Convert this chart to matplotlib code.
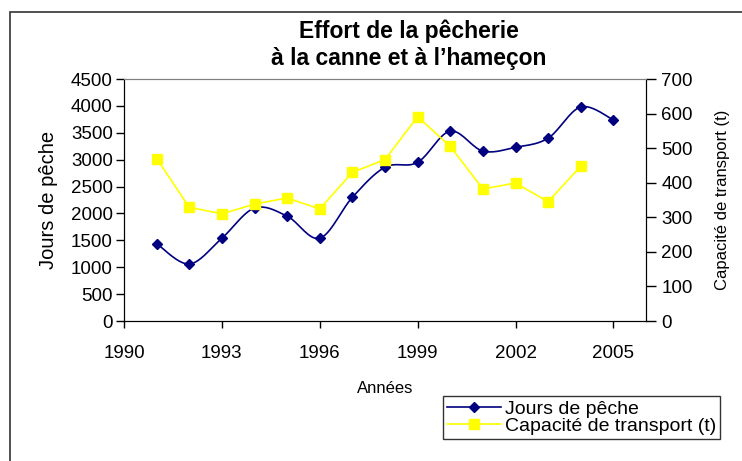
import numpy as np
import matplotlib.pyplot as plt
from matplotlib.patches import Rectangle

plt.rcParams['font.family'] = ['Liberation Sans', 'DejaVu Sans']

annees = [1991, 1992, 1993, 1994, 1995, 1996, 1997, 1998, 1999, 2000, 2001, 2002, 2003, 2004, 2005]
jours = [1440, 1060, 1540, 2100, 1950, 1540, 2300, 2860, 2950, 3530, 3160, 3230, 3400, 3980, 3740]
annees_cap = annees[:-1]
capacite = [470, 329, 310, 338, 356, 324, 430, 467, 591, 505, 382, 399, 345, 448]


def smooth(x, y, n=20):
    # catmull-rom curve through the points, like Excel's smoothed line
    x = np.asarray(x, float)
    y = np.asarray(y, float)
    px = np.concatenate([[x[0]], x, [x[-1]]])
    py = np.concatenate([[y[0]], y, [y[-1]]])
    xs, ys = [], []
    t = np.linspace(0, 1, n)
    for i in range(1, len(px) - 2):
        for p, out in ((px, xs), (py, ys)):
            p0, p1, p2, p3 = p[i - 1], p[i], p[i + 1], p[i + 2]
            out.extend(0.5 * (2 * p1 + (-p0 + p2) * t + (2 * p0 - 5 * p1 + 4 * p2 - p3) * t ** 2
                              + (-p0 + 3 * p1 - 3 * p2 + p3) * t ** 3))
    return xs, ys


W, H = 742, 461
fig = plt.figure(figsize=(7.42, 4.61), dpi=100)
fig.patches.append(Rectangle((10 / W, -0.05), 1.1, 1.05 - 12 / H, transform=fig.transFigure,
                             fill=False, edgecolor='#333333', linewidth=1.2))
ax = fig.add_axes([124 / W, 1 - 321 / H, 522 / W, 242 / H])
ax2 = ax.twinx()

navy = '#000080'
yellow = '#ffff00'

sx, sy = smooth(annees, jours)
ax.plot(sx, sy, color=navy, linewidth=1.2)
ax.plot(annees, jours, linestyle='none', marker='D', markersize=5.5, color=navy)
ax2.plot(annees_cap, capacite, color=yellow, linewidth=1.2, marker='s', markersize=6.5)

ax.set_xlim(1990, 2006)
ax.set_ylim(0, 4500)
ax2.set_ylim(0, 700)
ax.set_xticks([1990, 1993, 1996, 1999, 2002, 2005])
ax.set_yticks(np.arange(0, 4501, 500))
ax2.set_yticks(np.arange(0, 701, 100))
ax.tick_params(axis='y', labelsize=13.5, direction='out', length=6, width=1, pad=2)
ax.tick_params(axis='x', labelsize=13.5, direction='out', length=5, width=1, pad=12)
ax2.tick_params(labelsize=13.5, direction='out', length=7, width=1, pad=4)

for a in (ax, ax2):
    a.spines['top'].set_color('#808080')
    for s in ('left', 'right', 'bottom'):
        a.spines[s].set_color('black')

ax.set_ylabel('Jours de pêche', fontsize=14.5, labelpad=9)
ax2.set_ylabel('Capacité de transport (t)', fontsize=12, labelpad=16)
ax.set_xlabel('Années', fontsize=12, labelpad=14)

fig.text(409 / W, 1 - 38 / H, 'Effort de la pêcherie', ha='center', va='baseline',
         fontsize=16.5, fontweight='bold')
fig.text(409 / W, 1 - 65 / H, 'à la canne et à l’hameçon', ha='center', va='baseline',
         fontsize=16.5, fontweight='bold')

h1 = plt.Line2D([], [], color=navy, marker='D', markersize=5.5, linewidth=1.2)
h2 = plt.Line2D([], [], color=yellow, marker='s', markersize=6.5, linewidth=1.2)
leg = fig.legend([h1, h2], ['Jours de pêche', 'Capacité de transport (t)'],
                 loc='upper left', bbox_to_anchor=(443 / W, 1 - 396 / H), fontsize=14,
                 frameon=True, fancybox=False, edgecolor='black', labelspacing=0.0,
                 handlelength=2.8, handletextpad=0.2, borderpad=0.2, borderaxespad=0)
leg.get_frame().set_linewidth(1.0)

fig.savefig('out.png', dpi=100)
